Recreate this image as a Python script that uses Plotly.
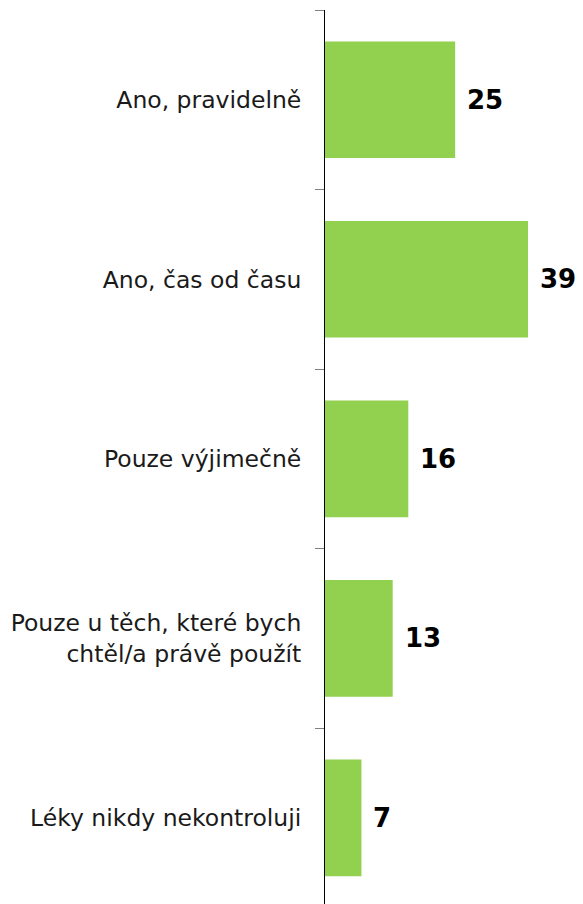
import plotly.graph_objects as go

categories = [
    "Ano, pravidelně",
    "Ano, čas od času",
    "Pouze výjimečně",
    "Pouze u těch, které bych<br>chtěl/a právě použít",
    "Léky nikdy nekontroluji",
]
values = [25, 39, 16, 13, 7]
value_labels = ["25", "39", "16", "13", "7"]

fig = go.Figure()
fig.add_trace(go.Bar(
    x=values,
    y=categories,
    orientation="h",
    width=0.65,
    marker=dict(color="#92D050", line=dict(width=0)),
    hoverinfo="skip",
))

for v, c, t in zip(values, categories, value_labels):
    fig.add_annotation(
        x=v, y=c, text="<b>%s</b>" % t, showarrow=False,
        xanchor="left", yanchor="middle", xshift=10,
        font=dict(family="DejaVu Sans", size=26, color="#000000"),
    )

fig.update_layout(
    width=583, height=904,
    margin=dict(l=325, r=0, t=10, b=0),
    paper_bgcolor="white", plot_bgcolor="white",
    showlegend=False,
    font=dict(family="DejaVu Sans", size=23.5, color="#1a1a1a"),
    bargap=0.35,
)
fig.update_xaxes(
    range=[0, 49.56], visible=False, showgrid=False, zeroline=False,
)
fig.update_yaxes(
    type="category",
    range=[4.48, -0.5],
    showline=True, linecolor="#000000", linewidth=1,
    ticks="outside", ticklen=9, tickcolor="#808080", tickwidth=1,
    tickson="boundaries",
    ticklabelstandoff=18,
    showgrid=False, zeroline=False,
    tickfont=dict(family="DejaVu Sans", size=23.5, color="#1a1a1a"),
)

fig.write_html(
    "out.html",
    config={"displayModeBar": False},
    post_script="document.body.style.margin='0';document.body.style.overflow='hidden';",
)
